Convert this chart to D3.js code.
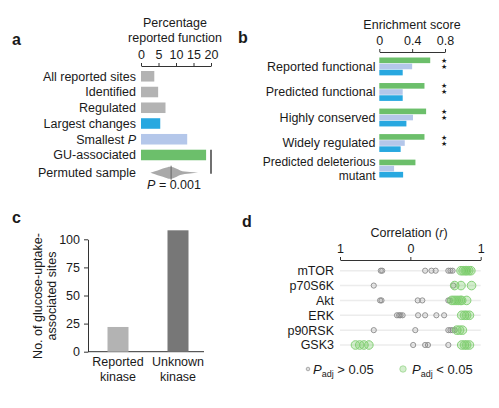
<!DOCTYPE html>
<html lang="en">
<head>
<meta charset="UTF-8">
<title>Glucose uptake phosphosites</title>
<script src="https://d3js.org/d3.v7.min.js"></script>
<style>
  body { margin: 0; background: #fff; }
  svg text { font-family: 'Liberation Sans', Arial, sans-serif; fill: #1a1a1a; }
  .lbl { font-size: 12.5px; }
  .tick text { font-size: 12.5px; }
  .panel { font-size: 16px; font-weight: bold; }
</style>
</head>
<body>
<svg width="499" height="408"></svg>
<script>
// ---- panel a data
const aCategories = ["All reported sites", "Identified", "Regulated", "Largest changes", "Smallest P", "GU-associated"];
const aValues = [3.8, 4.9, 7.0, 5.5, 13.2, 18.6];
const aColors = ["#b3b3b3", "#b3b3b3", "#b3b3b3", "#28a8e0", "#b4c7ea", "#6cbf6b"];
const aTicks = [0, 5, 10, 15, 20];
// permuted-sample distribution (percentage vs relative density)
const violinX = [2.7, 4, 5.5, 7, 8.2, 9.2, 10.2, 11.2, 12.5, 14, 16.3];
const violinDensity = [0, 0.25, 0.55, 0.82, 1, 0.9, 0.65, 0.38, 0.2, 0.12, 0];
const violinMedian = 8.6;
const observedGU = 20;

// ---- panel b data
const bCategories = ["Reported functional", "Predicted functional", "Highly conserved", "Widely regulated", "Predicted deleterious mutant"];
const bSeries = ["green", "lightblue", "blue"];
const bGreen = [0.62, 0.55, 0.57, 0.55, 0.44];
const bLightBlue = [0.40, 0.285, 0.41, 0.31, 0.18];
const bBlue = [0.285, 0.285, 0.33, 0.26, 0.29];
const bStars = [true, true, true, true, false];
const bTicks = [0, 0.4, 0.8];

// ---- panel c data
const cCategories = ["Reported kinase", "Unknown kinase"];
const cValues = [22, 108];
const cTicks = [0, 25, 50, 75, 100];

// ---- panel d data
const dKinases = ["mTOR", "p70S6K", "Akt", "ERK", "p90RSK", "GSK3"];
const dNonSig = [
  [-0.42, -0.40, 0.21, 0.30, 0.36, 0.54, 0.57, 0.60],
  [-0.52, 0.61],
  [-0.43, -0.41, 0.105, 0.17, 0.54, 0.56],
  [-0.19, -0.16, -0.14, -0.11, 0.11, 0.21, 0.37, 0.48],
  [-0.52, 0.07, 0.54, 0.57, 0.60, 0.63],
  [0.04, 0.21, 0.25, 0.54]
];
const dSig = [
  [0.72, 0.75, 0.78, 0.80, 0.83, 0.86],
  [0.63, 0.72, 0.87],
  [0.59, 0.62, 0.65, 0.68, 0.71, 0.73, 0.80],
  [0.73, 0.77, 0.80, 0.84],
  [0.66, 0.70, 0.74],
  [-0.78, -0.72, -0.66, -0.59, 0.73, 0.77, 0.80, 0.84]
];
const dTicks = [-1, 0, 1];

const svg = d3.select("svg");

// ================= panel a
svg.append("text").attr("class", "panel").attr("x", 12).attr("y", 45).text("a");

const xA = d3.scaleLinear().domain([0, 20]).range([141, 211]);
const yA = d3.scaleBand().domain([...aCategories, "Permuted sample"]).range([71, 176]).paddingInner(0.33);

const gA = svg.append("g");
gA.append("g").attr("transform", "translate(0,66)")
  .call(d3.axisTop(xA).tickValues(aTicks).tickSize(3).tickPadding(4).tickSizeOuter(0))
  .call(g => g.select(".domain").attr("stroke", "#333"))
  .call(g => g.selectAll(".tick line").attr("stroke", "#333"));

gA.append("text").attr("class", "lbl").attr("x", 175).attr("y", 27).attr("text-anchor", "middle").text("Percentage");
gA.append("text").attr("class", "lbl").attr("x", 175).attr("y", 42).attr("text-anchor", "middle").text("reported function");

gA.selectAll("rect").data(aCategories).join("rect")
  .attr("x", xA(0)).attr("y", d => yA(d))
  .attr("width", (d, i) => xA(aValues[i]) - xA(0))
  .attr("height", yA.bandwidth())
  .attr("fill", (d, i) => aColors[i]);

gA.selectAll(".alab").data(yA.domain()).join("text")
  .attr("class", "lbl alab").attr("x", 136)
  .attr("y", d => yA(d) + yA.bandwidth() / 2 + (d === "Permuted sample" ? 2 : 0))
  .attr("dy", "0.35em").attr("text-anchor", "end")
  .each(function (d) {
    const t = d3.select(this);
    if (d === "Smallest P") {
      t.append("tspan").text("Smallest ");
      t.append("tspan").attr("font-style", "italic").text("P");
    } else t.text(d);
  });

const vy = yA("Permuted sample") + yA.bandwidth() / 2 + 2;
const vh = d3.scaleLinear().domain([0, 1]).range([0, 6]);
gA.append("path")
  .datum(violinX.map((v, i) => [v, violinDensity[i]]))
  .attr("fill", "#a9a9a9")
  .attr("d", d3.area().x(d => xA(d[0])).y0(d => vy - vh(d[1])).y1(d => vy + vh(d[1])).curve(d3.curveMonotoneX));
gA.append("line").attr("x1", xA(violinMedian)).attr("x2", xA(violinMedian))
  .attr("y1", vy - 7).attr("y2", vy + 7).attr("stroke", "#666").attr("stroke-width", 1);
gA.append("line").attr("x1", xA(observedGU)).attr("x2", xA(observedGU))
  .attr("y1", yA("GU-associated")).attr("y2", vy + 1).attr("stroke", "#111").attr("stroke-width", 1.2);

const pText = gA.append("text").attr("class", "lbl").attr("x", 174).attr("y", 189).attr("text-anchor", "middle");
pText.append("tspan").attr("font-style", "italic").text("P");
pText.append("tspan").text(" = 0.001");

// ================= panel b
svg.append("text").attr("class", "panel").attr("x", 238).attr("y", 43).text("b");

const xB = d3.scaleLinear().domain([0, 0.8]).range([379.3, 445]);
const yB = d3.scaleBand().domain(bCategories).range([57.5, 177.5]).paddingInner(0.3).paddingOuter(0);
const ySub = d3.scaleBand().domain(bSeries).range([0, yB.bandwidth()]).paddingInner(0.08);
const bColors = { green: "#6cbf6b", lightblue: "#b4c7ea", blue: "#28a8e0" };
const bData = { green: bGreen, lightblue: bLightBlue, blue: bBlue };

const gB = svg.append("g");
gB.append("g").attr("transform", "translate(0,52)")
  .call(d3.axisTop(xB).tickValues(bTicks).tickFormat(d => d === 0 ? "0" : d3.format(".1f")(d)).tickSize(3).tickPadding(4).tickSizeOuter(0))
  .call(g => g.select(".domain").attr("stroke", "#333"))
  .call(g => g.selectAll(".tick line").attr("stroke", "#333"));
gB.append("text").attr("class", "lbl").attr("x", 412).attr("y", 29).attr("text-anchor", "middle").text("Enrichment score");

bCategories.forEach((c, i) => {
  bSeries.forEach(s => {
    gB.append("rect")
      .attr("x", xB(0)).attr("y", yB(c) + ySub(s))
      .attr("width", xB(bData[s][i]) - xB(0))
      .attr("height", ySub.bandwidth())
      .attr("fill", bColors[s]);
  });
  const cy = yB(c) + yB.bandwidth() / 2;
  if (c === "Predicted deleterious mutant") {
    const t = gB.append("text").attr("class", "lbl").attr("text-anchor", "end").style("font-size", "12px");
    t.append("tspan").attr("x", 375.5).attr("y", cy - 6.5).attr("dy", "0.35em").text("Predicted deleterious");
    t.append("tspan").attr("x", 375.5).attr("y", cy + 7).attr("dy", "0.35em").text("mutant");
  } else {
    gB.append("text").attr("class", "lbl").attr("x", 375.5).attr("y", cy).attr("dy", "0.35em").attr("text-anchor", "end").text(c);
  }
  if (bStars[i]) {
    [yB(c) + 3, yB(c) + 9].forEach(sy => {
      gB.append("text").attr("x", 443.5).attr("y", sy).attr("dy", "0.35em")
        .attr("text-anchor", "middle").attr("font-size", "7px").text("★");
    });
  }
});

// ================= panel c
svg.append("text").attr("class", "panel").attr("x", 12).attr("y", 223).text("c");

const xC = d3.scaleBand().domain(cCategories).range([88, 208]).paddingInner(0.65).paddingOuter(0.325);
const yC = d3.scaleLinear().domain([0, 100]).range([351.7, 239.3]);

const gC = svg.append("g");
gC.append("g").attr("transform", "translate(88,0)")
  .call(d3.axisLeft(yC).tickValues(cTicks).tickSize(4).tickPadding(4).tickSizeOuter(0))
  .call(g => g.select(".domain").attr("stroke", "#333"))
  .call(g => g.selectAll(".tick line").attr("stroke", "#333"));
gC.append("line").attr("x1", 88).attr("x2", 204).attr("y1", yC(0)).attr("y2", yC(0)).attr("stroke", "#333");

gC.selectAll(".cbar").data(cCategories).join("rect")
  .attr("class", "cbar")
  .attr("x", d => xC(d)).attr("width", xC.bandwidth())
  .attr("y", (d, i) => yC(cValues[i])).attr("height", (d, i) => yC(0) - yC(cValues[i]))
  .attr("fill", (d, i) => i === 0 ? "#b3b3b3" : "#777777");

cCategories.forEach(c => {
  const [w1, w2] = c.split(" ");
  const cx = xC(c) + xC.bandwidth() / 2;
  gC.append("text").attr("class", "lbl").attr("x", cx).attr("y", 366).attr("text-anchor", "middle").text(w1);
  gC.append("text").attr("class", "lbl").attr("x", cx).attr("y", 381).attr("text-anchor", "middle").text(w2);
});
gC.append("text").attr("class", "lbl").attr("transform", "translate(42,296) rotate(-90)").attr("text-anchor", "middle").text("No. of glucose-uptake-");
gC.append("text").attr("class", "lbl").attr("transform", "translate(56,296) rotate(-90)").attr("text-anchor", "middle").text("associated sites");

// ================= panel d
svg.append("text").attr("class", "panel").attr("x", 242).attr("y", 227).text("d");

const xD = d3.scaleLinear().domain([-1, 1]).range([340, 480.7]);
const yD = d3.scalePoint().domain(dKinases).range([270.7, 345]);

const gD = svg.append("g");
gD.append("g").attr("transform", "translate(0,260)")
  .call(d3.axisTop(xD).tickValues(dTicks).tickFormat(d => String(Math.abs(d))).tickSize(3).tickPadding(4).tickSizeOuter(0))
  .call(g => g.select(".domain").attr("stroke", "#333"))
  .call(g => g.selectAll(".tick line").attr("stroke", "#333"));
const corr = gD.append("text").attr("class", "lbl").attr("x", 409).attr("y", 237).attr("text-anchor", "middle");
corr.append("tspan").text("Correlation (");
corr.append("tspan").attr("font-style", "italic").text("r");
corr.append("tspan").text(")");

gD.selectAll(".rowline").data(dKinases).join("line")
  .attr("class", "rowline")
  .attr("x1", xD(-1)).attr("x2", xD(1))
  .attr("y1", d => yD(d)).attr("y2", d => yD(d))
  .attr("stroke", "#ececec").attr("stroke-width", 1.5);

gD.selectAll(".dlab").data(dKinases).join("text")
  .attr("class", "lbl dlab").attr("x", 334).attr("y", d => yD(d)).attr("dy", "0.35em")
  .attr("text-anchor", "end").text(d => d);

dKinases.forEach((k, i) => {
  gD.selectAll(null).data(dNonSig[i]).join("circle")
    .attr("cx", d => xD(d)).attr("cy", yD(k)).attr("r", 2.6)
    .attr("fill", "rgba(120,120,120,0.15)").attr("stroke", "#8a8a8a").attr("stroke-width", 0.9);
  gD.selectAll(null).data(dSig[i]).join("circle")
    .attr("cx", d => xD(d)).attr("cy", yD(k)).attr("r", 4.3)
    .attr("fill", "rgba(110,200,90,0.3)").attr("stroke", "#86d178").attr("stroke-width", 1);
});

// legend
gD.append("circle").attr("cx", 308).attr("cy", 369).attr("r", 1.8)
  .attr("fill", "#ddd").attr("stroke", "#999").attr("stroke-width", 0.8);
const l1 = gD.append("text").attr("x", 313).attr("y", 373.5).attr("font-size", "13px");
l1.append("tspan").attr("font-style", "italic").text("P");
l1.append("tspan").attr("font-size", "9px").attr("dy", 3).text("adj");
l1.append("tspan").attr("dy", -3).text(" > 0.05");
gD.append("circle").attr("cx", 403).attr("cy", 369).attr("r", 3.2)
  .attr("fill", "rgba(110,200,90,0.3)").attr("stroke", "#9ad68e").attr("stroke-width", 0.8);
const l2 = gD.append("text").attr("x", 412).attr("y", 373.5).attr("font-size", "13px");
l2.append("tspan").attr("font-style", "italic").text("P");
l2.append("tspan").attr("font-size", "9px").attr("dy", 3).text("adj");
l2.append("tspan").attr("dy", -3).text(" < 0.05");
</script>
</body>
</html>
